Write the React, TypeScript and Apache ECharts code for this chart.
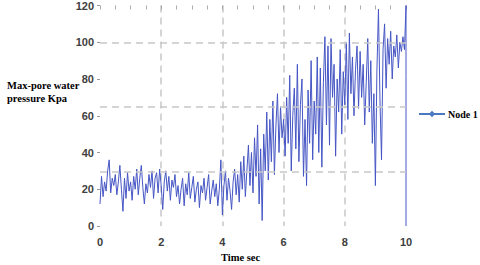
import React, { useEffect, useRef } from "react";
import * as echarts from "echarts";

const seriesName = "Node 1";
const timeStep = 0.05; // sampling interval of the record, sec
const pressureKpa: number[] = [
  12, 27, 16, 24, 19, 30, 36, 18, 26, 22, 28, 17, 24, 33, 20, 8, 26, 15, 29, 19, 24,
  14, 27, 20, 31, 17, 26, 33, 21, 12, 23, 18, 28, 21, 30, 15, 26, 29, 18, 31, 22,
  9, 24, 30, 19, 27, 14, 25, 21, 28, 16, 22, 12, 20, 26, 11, 23, 17, 29, 15, 21,
  27, 13, 20, 24, 10, 22, 18, 26, 14, 21, 28, 12, 19, 25, 16, 23, 11, 20, 36, 6,
  22, 30, 14, 26, 19, 9, 24, 31, 17, 28, 13, 35, 20, 38, 16, 30, 44, 22, 40, 18,
  48, 27, 55, 12, 42, 3, 50, 30, 62, 25, 58, 35, 68, 28, 55, 72, 40, 65, 48, 58,
  38, 70, 45, 82, 30, 60, 75, 42, 88, 35, 66, 80, 27, 58, 22, 74, 45, 90, 36, 68,
  50, 92, 40, 86, 32, 78, 103, 55, 98, 44, 102, 70, 88, 38, 80, 62, 96, 50, 84, 66,
  100, 58, 105, 72, 92, 60, 85, 98, 64, 95, 70, 88, 55, 78, 102, 62, 90, 45, 72, 22,
  85, 118, 68, 36, 96, 110, 75, 102, 88, 106, 80, 98, 92, 104, 86, 100, 95, 103, 96, 120,
];
// final drop of the record at t = 10 s
const endTimes: number[] = [10, 10];
const endValues: number[] = [82, 0];

const yTicks = { min: 0, max: 120, interval: 20 };
const xTicks = { min: 0, max: 10, interval: 2 };
const refLevels: number[] = [100, 64.8, 29.5];

export default function App() {
  const ref = useRef<HTMLDivElement>(null);
  useEffect(() => {
    if (!ref.current) return;
    const chart = echarts.init(ref.current, undefined, { renderer: "svg" });
    const data: [number, number][] = pressureKpa.map((v, i) => [
      Math.round(i * timeStep * 100) / 100,
      v,
    ]);
    endTimes.forEach((t, i) => data.push([t, endValues[i]]));

    const labelFont = {
      fontFamily: "Liberation Sans",
      fontWeight: "bold" as const,
      fontSize: 11,
      color: "#404040",
    };

    chart.setOption({
      animation: false,
      grid: { left: 100, right: 74, top: 4, bottom: 39 },
      legend: {
        data: [seriesName],
        left: 418,
        top: 109,
        width: 62,
        padding: 0,
        itemWidth: 26,
        itemHeight: 8,
        itemGap: 2,
        textStyle: {
          fontFamily: "Liberation Serif",
          fontWeight: "bold",
          fontSize: 10,
          color: "#000",
          padding: [0, 0, 0, -2],
        },
        lineStyle: { color: "#4a78c2", width: 2 },
        itemStyle: { color: "#4a78c2" },
      },
      xAxis: [
        {
          type: "value",
          ...xTicks,
          axisLine: { show: false },
          axisTick: { show: false },
          axisLabel: { ...labelFont, margin: 10 },
          splitLine: {
            show: true,
            showMinLine: false,
            showMaxLine: false,
            lineStyle: { color: "#c8c8c8", type: [7, 5], width: 1.5 },
          },
        },
        {
          type: "value",
          position: "top",
          min: 0,
          max: 10,
          interval: 0.5,
          axisLine: { show: false },
          axisTick: { show: true, inside: true, length: 4, lineStyle: { color: "#aaa" } },
          axisLabel: { show: false },
          splitLine: { show: false },
        },
      ],
      yAxis: {
        type: "value",
        ...yTicks,
        axisLine: { show: false },
        axisTick: { show: true, length: 3, lineStyle: { color: "#999" } },
        axisLabel: { ...labelFont, margin: 6 },
        splitLine: { show: false },
      },
      graphic: [
        {
          type: "text",
          left: 7,
          top: 79,
          style: {
            text: "Max-pore water\npressure Kpa",
            fontFamily: "Liberation Serif",
            fontWeight: "bold",
            fontSize: 10.5,
            lineHeight: 13,
            fill: "#000",
          },
        },
        {
          type: "text",
          left: 221,
          top: 252,
          style: {
            text: "Time sec",
            fontFamily: "Liberation Serif",
            fontWeight: "bold",
            fontSize: 10.5,
            fill: "#000",
          },
        },
      ],
      series: [
        {
          name: seriesName,
          type: "line",
          data,
          symbol: "diamond",
          symbolSize: 7,
          showSymbol: false,
          color: "#4a78c2",
          lineStyle: { color: "#4656c4", width: 1 },
          markLine: {
            silent: true,
            symbol: "none",
            label: { show: false },
            lineStyle: { color: "#c8c8c8", type: [7, 5], width: 1.5 },
            data: refLevels.map((v) => ({ yAxis: v })),
          },
          z: 3,
        },
      ],
    });
    return () => chart.dispose();
  }, []);
  return <div ref={ref} style={{ width: 480, height: 265, position: "absolute", left: 0, top: 0 }} />;
}
